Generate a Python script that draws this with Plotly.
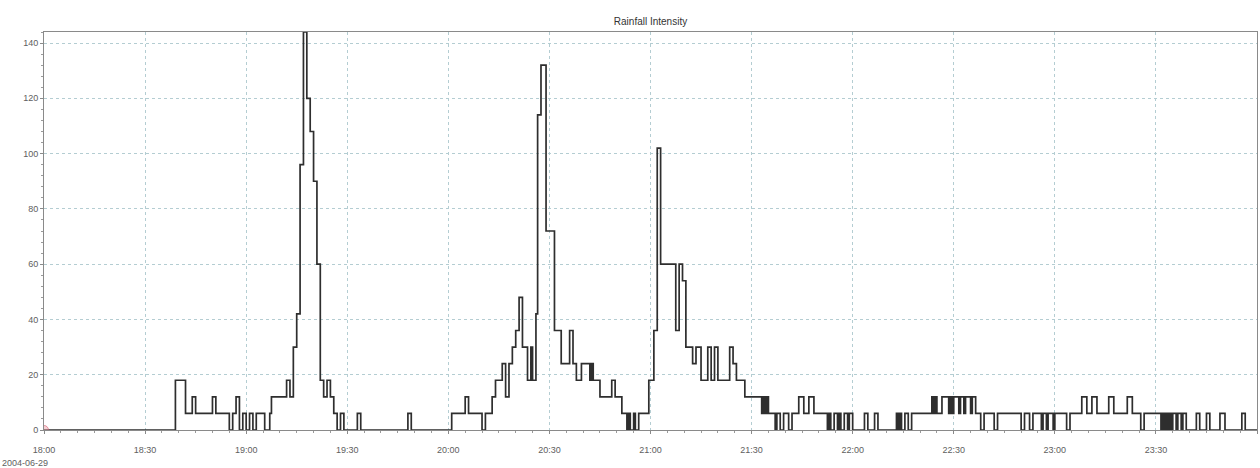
import pandas as pd
import plotly.graph_objects as go

# ---- data: step changes (minutes after 18:00) and rainfall intensity value held from that minute
start_date = "2004-06-29 18:00"
step_start_min = [
    0, 39, 42, 44, 45, 50, 51, 55, 56, 57, 58, 59, 60, 61, 62, 63, 65.5, 67, 67.5,
    72, 73, 74, 75, 76, 77, 78, 79, 80, 81, 82, 83, 84, 85, 86, 87, 88, 89, 93, 94,
    108, 109, 121, 125, 126, 130, 131, 133, 134, 136, 137, 138, 139, 140, 141, 142,
    143.5, 144.5, 145, 146, 146.5, 147.5, 149, 151.5, 153.5, 156, 157, 158, 159.5,
    162, 162.5, 163, 165, 168.5, 169.5, 171.5, 173, 173.5, 174, 175, 175.5, 176.5,
    179.5, 181, 182, 183, 187.5, 188.5, 189.5, 190.5, 192.5, 193.5, 195, 197, 198,
    199, 200, 203.5, 204.5, 205.5, 208, 213, 213.5, 214, 214.5, 215, 217, 217.5,
    218.5, 219.5, 221, 222, 224, 225.5, 227, 228.5, 232.5, 233, 233.5, 234.5, 235.5,
    236, 236.5, 237.5, 238.5, 239, 240, 243.5, 244.5, 246.5, 247.5, 253, 253.5, 254,
    254.5, 255.5, 256.5, 257.5, 263.5, 264, 264.5, 265, 266.5, 268.5, 269, 269.5,
    270, 271.5, 272, 273, 273.5, 275, 275.5, 276.5, 278, 279, 282, 283, 290, 291,
    292.5, 293.5, 296, 296.5, 297.5, 298, 299.5, 300, 303.5, 304.5, 308, 309.5, 311,
    312.5, 316, 317.5, 321.5, 323, 325.5, 326.5, 331.5, 332, 332.5, 333, 333.5, 334,
    334.5, 335, 336, 336.5, 337.5, 338, 339, 342, 343, 345, 346, 349, 350.5, 355.5,
    356.5,
]
step_value = [
    0, 18, 6, 12, 6, 12, 6, 0, 6, 12, 0, 6, 0, 6, 0, 6, 0, 6, 12,
    18, 12, 30, 42, 96, 144, 120, 108, 90, 60, 18, 12, 18, 12, 6, 0, 6, 0, 6, 0,
    6, 0, 6, 12, 6, 0, 6, 12, 18, 24, 12, 24, 30, 36, 48, 30,
    18, 30, 18, 42, 114, 132, 72, 36, 24, 36, 24, 18, 24,
    18, 24, 18, 12, 18, 12, 6, 0, 6, 0, 6, 0, 6,
    18, 36, 102, 60, 36, 60, 54, 30, 24, 30, 18, 30, 18,
    30, 18, 30, 24, 18, 12, 6, 12, 6, 12, 6, 0, 6,
    0, 6, 0, 6, 12, 6, 12, 6, 0, 6, 0, 6, 0,
    6, 0, 6, 0, 6, 0, 6, 0, 6, 0, 6, 0, 6,
    0, 6, 0, 6, 12, 6, 12, 6, 12, 6, 12, 6,
    12, 6, 12, 6, 12, 6, 12, 6, 0, 6, 0, 6, 0, 6,
    0, 6, 0, 6, 0, 6, 0, 6, 0, 6, 12, 6, 12,
    6, 12, 6, 12, 6, 0, 6, 0, 6, 0, 6, 0, 6,
    0, 6, 0, 6, 0, 6, 0, 6, 0, 6, 0, 6, 0, 6,
    0,
]
end_min = 360
title_text = "Rainfall Intensity"
date_label = "2004-06-29"
y_tick_values = [0, 20, 40, 60, 80, 100, 120, 140]

base = pd.Timestamp(start_date)
xs = [base + pd.Timedelta(minutes=m) for m in step_start_min] + [base + pd.Timedelta(minutes=end_min)]
ys = step_value + [step_value[-1]]

fig = go.Figure()
fig.add_trace(go.Scatter(
    x=xs, y=ys, mode="lines", line=dict(shape="hv", color="#2e2e2e", width=1.7),
    showlegend=False, hoverinfo="x+y",
))
# small cursor marker at origin
fig.add_trace(go.Scatter(
    x=[xs[0]], y=[0], mode="markers",
    marker=dict(size=9, color="rgba(235,150,160,0.45)", line=dict(color="rgba(210,90,110,0.6)", width=1)),
    showlegend=False, hoverinfo="skip",
))

grid_col = "#b4cdd2"
fig.update_layout(
    width=1260, height=468,
    margin=dict(l=44, r=3, t=32, b=38),
    paper_bgcolor="white", plot_bgcolor="white",
    font=dict(family="Liberation Sans, Arial, sans-serif", size=9, color="#606060"),
    title=dict(text=title_text, x=0.5, xref="paper", y=1 - 21 / 468, yref="container",
               xanchor="center", yanchor="middle",
               font=dict(size=10, color="#333333")),
    xaxis=dict(
        type="date",
        range=[xs[0], base + pd.Timedelta(minutes=end_min)],
        dtick=30 * 60 * 1000, tick0=base, tickformat="%H:%M",
        showgrid=True, gridcolor=grid_col, griddash="dot", gridwidth=1,
        showline=True, linecolor="#8a8a8a", linewidth=1, mirror=True,
        ticks="outside", ticklen=3, tickcolor="#8a8a8a",
        ticklabelstandoff=8,
        minor=dict(dtick=5 * 60 * 1000, ticks="outside", ticklen=2, tickcolor="#9a9a9a", showgrid=False),
        zeroline=False, fixedrange=True,
    ),
    yaxis=dict(
        range=[0, 144],
        tickvals=y_tick_values,
        showgrid=True, gridcolor=grid_col, griddash="dot", gridwidth=1,
        showline=True, linecolor="#8a8a8a", linewidth=1, mirror=True,
        ticks="outside", ticklen=3, tickcolor="#8a8a8a",
        minor=dict(dtick=4, ticks="outside", ticklen=2, tickcolor="#9a9a9a", showgrid=False),
        zeroline=False, fixedrange=True,
    ),
)
fig.add_annotation(
    text=date_label, xref="paper", yref="paper", x=-44 / 1213, y=-33 / 398,
    xanchor="left", yanchor="middle", showarrow=False,
    font=dict(size=9, color="#606060"),
)

fig.write_html("out.html")
